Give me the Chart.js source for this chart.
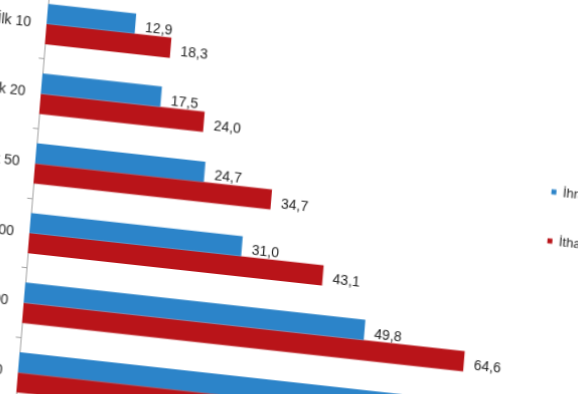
<!DOCTYPE html>
<html>
<head>
<meta charset="utf-8">
<script src="https://cdn.jsdelivr.net/npm/chart.js@4.4.1/dist/chart.umd.min.js"></script>
<style>
html,body{margin:0;padding:0;background:#fff;overflow:hidden;width:578px;height:394px;}
#c{position:absolute;left:0;top:0;transform-origin:0 0;transform:matrix(1,0.11,-0.082,1,-29,-39.65);}
</style>
</head>
<body>
<canvas id="c" width="648" height="458"></canvas>
<script>
const categories = ['İlk 10', 'İlk 20', 'İlk 50', 'İlk 100', 'İlk 500', 'İlk 1000'];
const ihracat = [12.9, 17.5, 24.7, 31.0, 49.8, 60.8];
const ithalat = [18.3, 24.0, 34.7, 43.1, 64.6, 71.5];
const seriesNames = ['İhracat', 'İthalat'];
const seriesColors = ['#2c84c9', '#b91419'];

const FONT = '"Liberation Sans", Arial, sans-serif';

const valueLabels = {
  id: 'valueLabels',
  afterDatasetsDraw(chart) {
    const ctx = chart.ctx;
    ctx.save();
    ctx.font = '14px ' + FONT;
    ctx.fillStyle = '#1e1e1e';
    ctx.textAlign = 'left';
    ctx.textBaseline = 'middle';
    chart.data.datasets.forEach((ds, i) => {
      chart.getDatasetMeta(i).data.forEach((bar, j) => {
        ctx.fillText(ds.data[j].toFixed(1).replace('.', ','), bar.x + 10, bar.y + 3.5);
      });
    });
    ctx.restore();
  }
};

new Chart(document.getElementById('c'), {
  type: 'bar',
  data: {
    labels: categories,
    datasets: [
      { label: seriesNames[0], data: ihracat, backgroundColor: seriesColors[0], borderWidth: 0 },
      { label: seriesNames[1], data: ithalat, backgroundColor: seriesColors[1], borderWidth: 0 }
    ]
  },
  options: {
    indexAxis: 'y',
    responsive: false,
    devicePixelRatio: 1,
    animation: false,
    categoryPercentage: 0.58,
    barPercentage: 1.0,
    layout: { padding: { top: 20, bottom: 20, left: 0, right: 0 } },
    scales: {
      x: { display: false, min: 0, max: 70 },
      y: {
        afterFit(scale) { scale.width = 80; },
        grid: { offset: true, drawOnChartArea: false, tickLength: 5, color: '#a0a0a0' },
        border: { color: '#a0a0a0' },
        ticks: { padding: 10.5, color: '#1e1e1e', font: { size: 14, family: FONT } }
      }
    },
    plugins: {
      tooltip: { enabled: false },
      legend: {
        position: 'right',
        align: 'start',
        maxWidth: 90,
        title: { display: true, text: ' ', font: { size: 10 }, padding: { top: 91.5, bottom: 0 } },
        labels: { boxWidth: 5, boxHeight: 5, padding: 36, color: '#1e1e1e', font: { size: 13, family: FONT } }
      }
    }
  },
  plugins: [valueLabels]
});
</script>
</body>
</html>
